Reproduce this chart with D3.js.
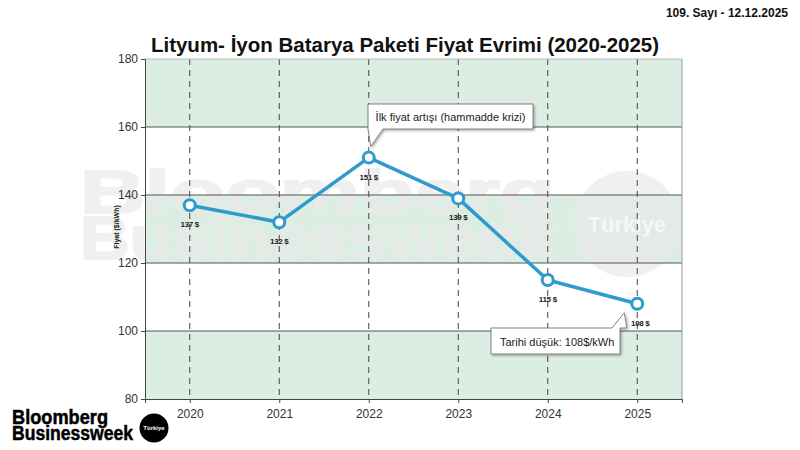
<!DOCTYPE html>
<html><head><meta charset="utf-8">
<script src="https://cdn.jsdelivr.net/npm/d3@7"></script>
<style>body{margin:0;background:#fff}svg{display:block}</style>
</head><body>
<svg id="c" width="800" height="450"></svg>
<script>
const years = ["2020","2021","2022","2023","2024","2025"];
const prices = [137, 132, 151, 139, 115, 108];
const priceLabels = ["137 $","132 $","151 $","139 $","115 $","108 $"];
const yTicks = [80, 100, 120, 140, 160, 180];
const bands = [[160,180],[120,140],[80,100]];
const title = "Lityum- İyon Batarya Paketi Fiyat Evrimi (2020-2025)";
const issue = "109. Sayı - 12.12.2025";
const yLabel = "Fiyat ($/kWh)";
const note1 = "İlk fiyat artışı (hammadde krizi)";
const note2 = "Tarihi düşük: 108$/kWh";

const svg = d3.select("#c");
const F = "'Liberation Sans', Arial, sans-serif";
const m = {l:145, r:682, t:59, b:399};
const x = d3.scalePoint().domain(years).range([m.l, m.r]).padding(0.5);
const y = d3.scaleLinear().domain([80,180]).range([m.b, m.t]);
const blue = "#2e9bcf";

// background bands
svg.append("g").selectAll("rect").data(bands).join("rect")
  .attr("x", m.l).attr("width", m.r - m.l)
  .attr("y", d => y(d[1])).attr("height", d => y(d[0]) - y(d[1]))
  .attr("fill", "#dcede3");

// watermark
const wm = svg.append("g").attr("opacity", 0.7);
wm.append("text").attr("x", 80).attr("y", 213).attr("font-family", F).attr("font-weight", 700)
  .attr("font-size", 62).attr("fill", "#eaeaea").attr("textLength", 475).attr("lengthAdjust", "spacingAndGlyphs")
  .attr("stroke", "#eaeaea").attr("stroke-width", 2)
  .text("Bloomberg");
wm.append("text").attr("x", 80).attr("y", 259).attr("font-family", F).attr("font-weight", 700)
  .attr("font-size", 62).attr("fill", "#eaeaea").attr("textLength", 475).attr("lengthAdjust", "spacingAndGlyphs")
  .attr("stroke", "#eaeaea").attr("stroke-width", 2)
  .text("Businessweek");
wm.append("circle").attr("cx", 627).attr("cy", 224).attr("r", 53).attr("fill", "#eaeaea");
wm.append("text").attr("x", 627).attr("y", 232).attr("text-anchor", "middle").attr("font-family", F)
  .attr("font-weight", 700).attr("font-size", 22).attr("fill", "#fff").text("Türkiye");

// vertical dashed lines
svg.append("g").selectAll("line").data(years).join("line")
  .attr("x1", d => x(d)).attr("x2", d => x(d)).attr("y1", m.t).attr("y2", m.b)
  .attr("stroke", "#444").attr("stroke-width", 1).attr("stroke-dasharray", "6,5");

// horizontal grid
svg.append("g").selectAll("line").data(yTicks.filter(v => v > 80 && v < 180)).join("line")
  .attr("x1", m.l).attr("x2", m.r).attr("y1", d => y(d)).attr("y2", d => y(d))
  .attr("stroke", "#555").attr("stroke-width", 1);

// frame
svg.append("line").attr("x1", m.l).attr("x2", m.r).attr("y1", m.t).attr("y2", m.t).attr("stroke", "#bbb");
svg.append("line").attr("x1", m.r).attr("x2", m.r).attr("y1", m.t).attr("y2", m.b).attr("stroke", "#999");

// axes
const yAxis = svg.append("g").attr("transform", `translate(${m.l},0)`)
  .call(d3.axisLeft(y).tickValues(yTicks).tickSize(4).tickPadding(3));
const xAxis = svg.append("g").attr("transform", `translate(0,${m.b})`)
  .call(d3.axisBottom(x).tickSize(4).tickPadding(3));
[yAxis, xAxis].forEach(g => {
  g.selectAll("path, line").attr("stroke", "#444");
  g.selectAll("text").attr("font-family", F).attr("font-size", 12).attr("fill", "#333");
});
xAxis.selectAll("text").attr("dy", "1em");

svg.append("text").attr("transform", `translate(119,227) rotate(-90)`).attr("text-anchor", "middle")
  .attr("font-family", F).attr("font-weight", 700).attr("font-size", 7).attr("fill", "#222").text(yLabel);

// line + points
const line = d3.line().x((d, i) => x(years[i])).y(d => y(d));
svg.append("path").datum(prices).attr("d", line).attr("fill", "none")
  .attr("stroke", blue).attr("stroke-width", 3.5).attr("stroke-linejoin", "round");
svg.append("g").selectAll("circle").data(prices).join("circle")
  .attr("cx", (d, i) => x(years[i])).attr("cy", d => y(d)).attr("r", 5.5)
  .attr("fill", "#fff").attr("stroke", blue).attr("stroke-width", 3);
svg.append("g").selectAll("text").data(prices).join("text")
  .attr("x", (d, i) => x(years[i]) + (i === 5 ? 3 : 0)).attr("y", d => y(d) + 22)
  .attr("text-anchor", "middle").attr("font-family", F).attr("font-weight", 700)
  .attr("font-size", 8).attr("fill", "#222").attr("letter-spacing", -0.3)
  .text((d, i) => priceLabels[i]);

// callouts
const shadow = svg.append("defs").append("filter").attr("id", "sh").attr("x", "-10%").attr("y", "-20%").attr("width", "130%").attr("height", "160%");
shadow.append("feDropShadow").attr("dx", 1.5).attr("dy", 1.5).attr("stdDeviation", 1).attr("flood-color", "#000").attr("flood-opacity", 0.3);

const px2 = x("2022"), py2 = y(151);
const b1 = {x1: 368, y1: 104, x2: 533, y2: 129};
svg.append("path").attr("filter", "url(#sh)")
  .attr("d", `M${b1.x1},${b1.y1}H${b1.x2}V${b1.y2}H${b1.x1 + 15}L${px2 + 2},${py2 - 11}L${b1.x1},${b1.y2}Z`)
  .attr("fill", "#fff").attr("stroke", "#666").attr("stroke-width", 0.8);
svg.append("text").attr("x", (b1.x1 + b1.x2) / 2).attr("y", 121).attr("text-anchor", "middle")
  .attr("font-family", F).attr("font-size", 11).attr("fill", "#222").text(note1);

const px5 = x("2025"), py5 = y(108);
const b2 = {x1: 491, y1: 328, x2: 620, y2: 354};
svg.append("path").attr("filter", "url(#sh)")
  .attr("d", `M${b2.x1},${b2.y1}H${b2.x2 - 8}L${px5 - 13},${py5 + 9}L${px5 - 11},${py5 + 20}V${b2.y1}H${b2.x2}V${b2.y2}H${b2.x1}Z`)
  .attr("fill", "#fff").attr("stroke", "#666").attr("stroke-width", 0.8);
svg.append("text").attr("x", 500).attr("y", 346)
  .attr("font-family", F).attr("font-size", 11).attr("fill", "#222").text(note2);

// title & issue
svg.append("text").attr("x", 405).attr("y", 52).attr("text-anchor", "middle")
  .attr("font-family", F).attr("font-weight", 700).attr("font-size", 20.5).attr("fill", "#111").text(title);
svg.append("text").attr("x", 788).attr("y", 17).attr("text-anchor", "end")
  .attr("font-family", F).attr("font-weight", 700).attr("font-size", 12).attr("fill", "#111").text(issue);

// logo
const lg = svg.append("g");
lg.append("text").attr("x", 12).attr("y", 424).attr("font-family", F).attr("font-weight", 700)
  .attr("font-size", 20).attr("fill", "#000").attr("textLength", 96).attr("lengthAdjust", "spacingAndGlyphs")
  .attr("stroke", "#000").attr("stroke-width", 0.5).text("Bloomberg");
lg.append("text").attr("x", 12).attr("y", 440).attr("font-family", F).attr("font-weight", 700)
  .attr("font-size", 20).attr("fill", "#000").attr("textLength", 121).attr("lengthAdjust", "spacingAndGlyphs")
  .attr("stroke", "#000").attr("stroke-width", 0.5).text("Businessweek");
lg.append("circle").attr("cx", 154).attr("cy", 428).attr("r", 14.5).attr("fill", "#000");
lg.append("text").attr("x", 154).attr("y", 430).attr("text-anchor", "middle").attr("font-family", F)
  .attr("font-weight", 700).attr("font-size", 6).attr("fill", "#fff").text("Türkiye");
</script>
</body></html>
